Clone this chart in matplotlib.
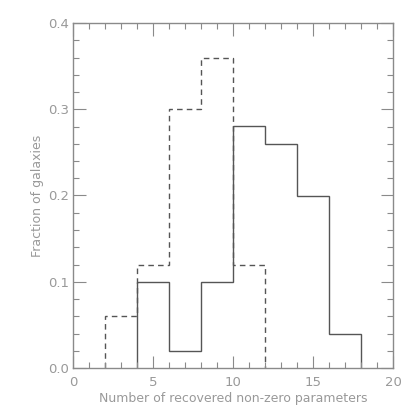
import matplotlib
matplotlib.use("Agg")
import matplotlib.pyplot as plt
from matplotlib.ticker import MultipleLocator

# histogram data (bin width 2)
dashed_edges = [2, 4, 6, 8, 10, 12]
dashed_vals = [0.06, 0.12, 0.30, 0.36, 0.12]
solid_edges = [4, 6, 8, 10, 12, 14, 16, 18]
solid_vals = [0.10, 0.02, 0.10, 0.28, 0.26, 0.20, 0.04]

x_label = "Number of recovered non-zero parameters"
y_label = "Fraction of galaxies"

axis_col = "#8a8a8a"
text_col = "#999999"
line_col = "#555555"

fig = plt.figure(figsize=(4.15, 4.15), dpi=100)
ax = fig.add_axes([73 / 415, 1 - 368 / 415, 320 / 415, 345 / 415])

ax.stairs(dashed_vals, dashed_edges, baseline=0, color=line_col, lw=1.0,
          linestyle=(0, (4, 3)))
ax.stairs(solid_vals, solid_edges, baseline=0, color=line_col, lw=1.0)

ax.set_xlim(0, 20)
ax.set_ylim(0, 0.4)
ax.xaxis.set_major_locator(MultipleLocator(5))
ax.xaxis.set_minor_locator(MultipleLocator(1))
ax.yaxis.set_major_locator(MultipleLocator(0.1))
ax.yaxis.set_minor_locator(MultipleLocator(0.02))
ax.xaxis.set_major_formatter(lambda v, p: f"{v:.0f}")
ax.yaxis.set_major_formatter(lambda v, p: f"{v:.1f}")

for s in ax.spines.values():
    s.set_color(axis_col)
    s.set_linewidth(1.0)
ax.tick_params(which="both", direction="in", top=True, right=True,
               color=axis_col, labelcolor=text_col, labelsize=9.5, width=0.8)
ax.tick_params(which="major", length=9)
ax.tick_params(which="minor", length=4.5)
ax.tick_params(axis="x", which="major", pad=6)
ax.tick_params(axis="y", which="major", pad=3)

ax.set_xlabel(x_label, color=text_col, fontsize=9, labelpad=2)
ax.set_ylabel(y_label, color=text_col, fontsize=9, labelpad=3)

fig.savefig("out.png", dpi=100)
